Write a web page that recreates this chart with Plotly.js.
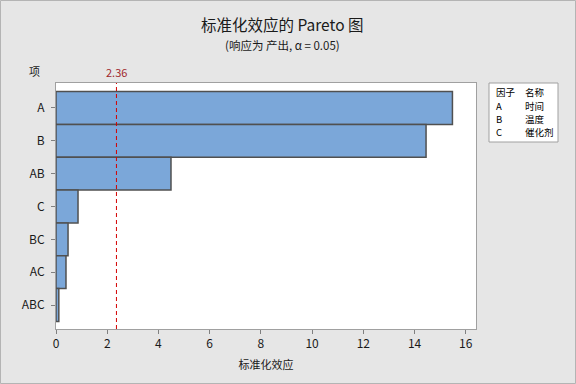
<!DOCTYPE html>
<html><head><meta charset="utf-8">
<script src="https://cdn.plot.ly/plotly-3.0.1.min.js"></script>
<style>html,body{margin:0;padding:0;background:#e6e6e6;}#c{width:576px;height:384px;}</style>
</head><body><div id="c"></div>
<script>
const terms = ["A","B","AB","C","BC","AC","ABC"];
const effects = [15.48, 14.45, 4.49, 0.86, 0.47, 0.39, 0.11];
const refValue = 2.36;
const factorCodes = ["A","B","C"];
const factorNames = ["时间","温度","催化剂"];
const xTicks = [0,2,4,6,8,10,12,14,16];

const FONT = "'Segoe UI','Noto Sans CJK SC','Noto Sans',sans-serif";
const L = 56, R = 476, T = 83, B = 329;
const pw = R - L, ph = B - T;
const px = x => (x - L) / pw;
const py = y => (B - y) / ph;

const annotations = [
  {text:"标准化效应的 Pareto 图", xref:"paper", yref:"paper", x:px(282), y:py(24), showarrow:false, font:{family:FONT,size:15.5,color:"#1a1a1a"}, xanchor:"center", yanchor:"middle"},
  {text:"(响应为 产出, α = 0.05)", xref:"paper", yref:"paper", x:px(282), y:py(45), showarrow:false, font:{family:FONT,size:11.5,color:"#1a1a1a"}, xanchor:"center", yanchor:"middle"},
  {text:"项", xref:"paper", yref:"paper", x:px(34), y:py(71), showarrow:false, font:{family:FONT,size:11,color:"#1a1a1a"}, xanchor:"center", yanchor:"middle"},
  {text:String(refValue), xref:"x", yref:"paper", x:refValue, y:py(72), showarrow:false, font:{family:FONT,size:11,color:"#a0282d"}, xanchor:"center", yanchor:"middle"},
  {text:"因子", xref:"paper", yref:"paper", x:px(494), y:py(92), showarrow:false, font:{family:FONT,size:9.5,color:"#000"}, xanchor:"left", yanchor:"middle"},
  {text:"名称", xref:"paper", yref:"paper", x:px(523), y:py(92), showarrow:false, font:{family:FONT,size:9.5,color:"#000"}, xanchor:"left", yanchor:"middle"}
];
factorCodes.forEach((c,i) => {
  const yy = 105.5 + i*13.3;
  annotations.push({text:c, xref:"paper", yref:"paper", x:px(494), y:py(yy), showarrow:false, font:{family:FONT,size:9.5,color:"#000"}, xanchor:"left", yanchor:"middle"});
  annotations.push({text:factorNames[i], xref:"paper", yref:"paper", x:px(523), y:py(yy), showarrow:false, font:{family:FONT,size:9.5,color:"#000"}, xanchor:"left", yanchor:"middle"});
});

const shapes = [
  {type:"line", xref:"x", yref:"paper", x0:refValue, x1:refValue, y0:0, y1:1, line:{color:"#d40000", width:1, dash:"4px,3px"}},
  {type:"rect", xref:"paper", yref:"paper", x0:px(489), x1:px(558), y0:py(142), y1:py(83), line:{color:"#a0a0a0", width:1}, fillcolor:"#ffffff", layer:"below"},
  {type:"rect", xref:"paper", yref:"paper", x0:px(0.5), x1:px(575.5), y0:py(383.5), y1:py(0.5), line:{color:"#b4b4b4", width:1}, fillcolor:"rgba(0,0,0,0)", layer:"below"}
];

const trace = {
  type:"bar", orientation:"h", x:effects, y:terms,
  marker:{color:"#7ba7d9", line:{color:"#505050", width:1.5}},
  width:1, hoverinfo:"skip"
};

const layout = {
  width:576, height:384,
  margin:{l:L, r:576-R, t:T, b:384-B, pad:0},
  paper_bgcolor:"#e6e6e6", plot_bgcolor:"#ffffff",
  showlegend:false, bargap:0,
  font:{family:FONT, size:11, color:"#1a1a1a"},
  xaxis:{range:[0,16.4], tickvals:xTicks, ticktext:xTicks.map(String), ticks:"outside", ticklen:4, tickcolor:"#808080",
    showgrid:false, zeroline:false, showline:true, mirror:true, linecolor:"#a0a0a0", linewidth:1,
    tickfont:{family:FONT,size:12,color:"#1a1a1a"},
    title:{text:"标准化效应", font:{family:FONT,size:11,color:"#1a1a1a"}, standoff:10}},
  yaxis:{type:"category", categoryorder:"array", categoryarray:terms, range:[6.73,-0.76], ticks:"outside", ticklen:4, tickcolor:"#808080",
    showgrid:false, zeroline:false, showline:true, mirror:true, linecolor:"#a0a0a0", linewidth:1,
    tickfont:{family:FONT,size:12,color:"#1a1a1a"}, ticklabelstandoff:4},
  annotations:annotations, shapes:shapes
};

Plotly.newPlot("c", [trace], layout, {staticPlot:true, displayModeBar:false});
</script></body></html>
